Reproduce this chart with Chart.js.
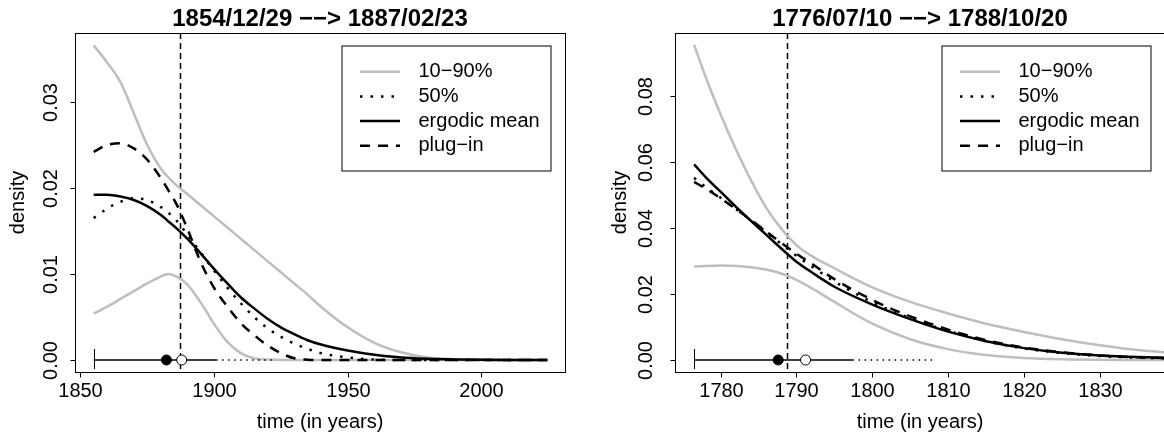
<!DOCTYPE html>
<html><head><meta charset="utf-8">
<script src="https://cdn.jsdelivr.net/npm/chart.js@4"></script>
<style>
html,body{margin:0;padding:0;background:#fff;overflow:hidden;width:1164px;height:437px;position:relative;}
#c1{position:absolute;left:0;top:0;}
#c2{position:absolute;left:582px;top:0;}
</style></head><body>
<canvas id="c1" width="582" height="437"></canvas>
<canvas id="c2" width="600" height="437"></canvas>
<script>
// ---------- Left panel data ----------
const leftTitle = "1854/12/29 \u2212\u2212> 1887/02/23";
const leftYears = [1854.99, 1860, 1865, 1870, 1875, 1880, 1883, 1886, 1890, 1895, 1900, 1905, 1910, 1915, 1920, 1925, 1930, 1935, 1940, 1950, 1960, 1970, 1980, 1990, 2000, 2010, 2024.7];
const leftQ90  = [0.0366, 0.0346, 0.0323, 0.0287, 0.0250, 0.0223, 0.0212, 0.0203, 0.0193, 0.0180, 0.0167, 0.0154, 0.0141, 0.0128, 0.0115, 0.0102, 0.0089, 0.0076, 0.0062, 0.0038, 0.0020, 0.0009, 0.0003, 0.0001, 0.00003, 0.00001, 0];
const leftQ10  = [0.0054, 0.0062, 0.0071, 0.0080, 0.0089, 0.0097, 0.0100, 0.0097, 0.0088, 0.0067, 0.0042, 0.0021, 0.0008, 0.0002, 0.00005, 0, 0, 0, 0, 0, 0, 0, 0, 0, 0, 0, 0];
const leftQ50  = [0.0165, 0.0176, 0.0184, 0.0188, 0.0186, 0.0178, 0.0171, 0.0162, 0.0146, 0.0125, 0.0104, 0.0084, 0.0066, 0.0050, 0.0037, 0.0027, 0.0019, 0.0013, 0.0008, 0.0003, 0.00005, 0, 0, 0, 0, 0, 0];
const leftMean = [0.0192, 0.0192, 0.0190, 0.0186, 0.0179, 0.0169, 0.0161, 0.0153, 0.0141, 0.0124, 0.0106, 0.0089, 0.0073, 0.0060, 0.0048, 0.0038, 0.0030, 0.0023, 0.0018, 0.0011, 0.0006, 0.0003, 0.00015, 0.00007, 0.00003, 0.00001, 0];
const leftPlug = [0.0242, 0.0250, 0.0252, 0.0246, 0.0233, 0.0212, 0.0197, 0.0181, 0.0153, 0.0114, 0.0084, 0.0062, 0.0043, 0.0029, 0.0017, 0.0008, 0.0002, 0.00004, 0, 0, 0, 0, 0, 0, 0, 0, 0];
const leftInterval = [1854.99, 1900.8, 1923];   // start, solid end, dotted end
const leftMarks = [1882.2, 1887.9];             // filled, open
const leftCut = 1887.14;
const leftXTicks = [1850, 1900, 1950, 2000];
const leftYTicks = [0, 0.01, 0.02, 0.03];
const leftYLabels = ["0.00", "0.01", "0.02", "0.03"];
const leftXRange = [1848.0, 2031.3];
const leftYRange = [-0.001395, 0.03802];

// ---------- Right panel data ----------
const rightTitle = "1776/07/10 \u2212\u2212> 1788/10/20";
const rightYears = [1776.52, 1778, 1780, 1782, 1784, 1786, 1788, 1790, 1792, 1795, 1800, 1805, 1810, 1815, 1820, 1825, 1830, 1835, 1840];
const rightQ90  = [0.0955, 0.0860, 0.0745, 0.0640, 0.0545, 0.0462, 0.0398, 0.0348, 0.0315, 0.0278, 0.0220, 0.0176, 0.0141, 0.0110, 0.0085, 0.0063, 0.0045, 0.0030, 0.0020];
const rightQ10  = [0.0283, 0.0285, 0.0286, 0.0285, 0.0281, 0.0274, 0.0262, 0.0243, 0.0218, 0.0176, 0.0110, 0.0063, 0.0033, 0.0015, 0.0006, 0.0002, 0.00005, 0.00001, 0];
const rightQ50  = [0.0552, 0.0525, 0.0492, 0.0458, 0.0423, 0.0388, 0.0352, 0.0316, 0.0284, 0.0238, 0.0175, 0.0127, 0.0088, 0.0057, 0.0035, 0.0021, 0.0012, 0.0007, 0.0004];
const rightMean = [0.0593, 0.0555, 0.0510, 0.0465, 0.0422, 0.0380, 0.0338, 0.0298, 0.0266, 0.0222, 0.0168, 0.0124, 0.0086, 0.0057, 0.0036, 0.0022, 0.0014, 0.0009, 0.0006];
const rightPlug = [0.0540, 0.0520, 0.0490, 0.0458, 0.0425, 0.0390, 0.0355, 0.0322, 0.0292, 0.0245, 0.0182, 0.0132, 0.0092, 0.0060, 0.0038, 0.0023, 0.0014, 0.0008, 0.0005];
const rightInterval = [1776.52, 1797.4, 1808.4];
const rightMarks = [1787.6, 1791.2];
const rightCut = 1788.80;
const rightXTicks = [1780, 1790, 1800, 1810, 1820, 1830];
const rightYTicks = [0, 0.02, 0.04, 0.06, 0.08];
const rightYLabels = ["0.00", "0.02", "0.04", "0.06", "0.08"];
const rightXRange = [1774.0, 1838.56];
const rightYRange = [-0.003636, 0.09909];

const legendLabels = ["10\u221290%", "50%", "ergodic mean", "plug\u2212in"];
const xTitle = "time (in years)";
const yTitle = "density";

// ---------- styles ----------
const FONT = '"Liberation Sans", Arial, Helvetica, sans-serif';
const GRAY = '#bebebe';
const styles = [
  {color: GRAY, width: 2.5, dash: []},
  {color: '#000', width: 2.5, dash: [2.5, 8]},
  {color: '#000', width: 2.5, dash: []},
  {color: '#000', width: 2.5, dash: [10, 8]}
];

function pts(xs, ys) { return xs.map((x, i) => ({x: x, y: ys[i]})); }

function curve(xs, ys, st, order) {
  return {data: pts(xs, ys), borderColor: st.color, borderWidth: st.width, borderDash: st.dash,
          pointRadius: 0, cubicInterpolationMode: 'monotone', fill: false, order: order, borderCapStyle: 'butt'};
}

function build(id, p) {
  const datasets = [
    curve(p.years, p.q90, styles[0], 20),
    curve(p.years, p.q10, styles[0], 19),
    curve(p.years, p.q50, styles[1], 18),
    curve(p.years, p.mean, styles[2], 17),
    curve(p.years, p.plug, styles[3], 16),
    {data: [{x: p.interval[0], y: 0}, {x: p.interval[1], y: 0}], borderColor: '#000', borderWidth: 1.5, pointRadius: 0, order: 5},
    {data: [{x: p.interval[1], y: 0}, {x: p.interval[2], y: 0}], borderColor: '#000', borderWidth: 1.5, borderDash: [1.5, 4.5], pointRadius: 0, order: 6},
    {data: [{x: p.marks[0], y: 0}], showLine: false, pointRadius: 5, pointBackgroundColor: '#000', pointBorderColor: '#000', pointBorderWidth: 1, order: 2},
    {data: [{x: p.marks[1], y: 0}], showLine: false, pointRadius: 5, pointBackgroundColor: '#fff', pointBorderColor: '#000', pointBorderWidth: 1, order: 1}
  ];
  const decor = {
    id: 'decor',
    beforeDatasetsDraw(chart) {
      const ctx = chart.ctx, a = chart.chartArea, x = chart.scales.x;
      const cx = Math.round(x.getPixelForValue(p.cut)) + 0.5;
      ctx.save();
      ctx.strokeStyle = '#000'; ctx.lineWidth = 1.5; ctx.setLineDash([6, 4]);
      ctx.beginPath(); ctx.moveTo(cx, a.top); ctx.lineTo(cx, a.bottom); ctx.stroke();
      ctx.restore();
    },
    afterDatasetsDraw(chart) {
      const ctx = chart.ctx, a = chart.chartArea, x = chart.scales.x, y = chart.scales.y;
      ctx.save();
      // start bar
      const sx = Math.round(x.getPixelForValue(p.interval[0])) + 0.5;
      const y0 = y.getPixelForValue(0);
      ctx.strokeStyle = '#000'; ctx.lineWidth = 1;
      ctx.beginPath(); ctx.moveTo(sx, y0 - 11); ctx.lineTo(sx, y0 + 9); ctx.stroke();
      // legend
      const br = Math.round(a.right) - 14, bl = br - 209, bt = Math.round(a.top) + 13, bb = bt + 125;
      ctx.fillStyle = '#fff'; ctx.fillRect(bl, bt, br - bl, bb - bt);
      ctx.strokeStyle = '#000'; ctx.lineWidth = 1; ctx.strokeRect(bl, bt, br - bl, bb - bt);
      ctx.font = '20px ' + FONT; ctx.textAlign = 'left'; ctx.textBaseline = 'middle'; ctx.fillStyle = '#000';
      legendLabels.forEach((lab, i) => {
        const ry = bt + 25.7 + i * 24.7;
        const st = styles[i];
        ctx.save();
        ctx.strokeStyle = st.color; ctx.lineWidth = st.width; ctx.setLineDash(st.dash); ctx.lineCap = 'butt';
        ctx.beginPath(); ctx.moveTo(bl + 18, ry); ctx.lineTo(bl + 58, ry); ctx.stroke();
        ctx.restore();
        ctx.fillText(lab, bl + 76.5, ry);
      });
      ctx.restore();
    },
    afterDraw(chart) {
      const ctx = chart.ctx, a = chart.chartArea, x = chart.scales.x, y = chart.scales.y;
      ctx.save();
      ctx.strokeStyle = '#000'; ctx.lineWidth = 1; ctx.setLineDash([]);
      const L = Math.floor(a.left) + 0.5, T = Math.floor(a.top) + 0.5, B = Math.floor(a.bottom) + 0.5, R = Math.floor(a.right) + 0.5;
      ctx.strokeRect(L, T, R - L, B - T);
      ctx.fillStyle = '#000';
      ctx.font = '20px ' + FONT;
      // x ticks
      ctx.textAlign = 'center'; ctx.textBaseline = 'alphabetic';
      p.xTicks.forEach(t => {
        const px = Math.round(x.getPixelForValue(t)) + 0.5;
        ctx.beginPath(); ctx.moveTo(px, B); ctx.lineTo(px, B + 5); ctx.stroke();
        ctx.fillText(String(t), px, 396.5);
      });
      // y ticks
      p.yTicks.forEach((t, i) => {
        const py = Math.round(y.getPixelForValue(t)) + 0.5;
        ctx.beginPath(); ctx.moveTo(L - 5, py); ctx.lineTo(L, py); ctx.stroke();
        ctx.save(); ctx.translate(L - p.yLabOff, py); ctx.rotate(-Math.PI / 2);
        ctx.fillText(p.yLabels[i], 0, 0); ctx.restore();
      });
      // axis titles
      const cxm = (a.left + a.right) / 2, cym = (a.top + a.bottom) / 2;
      ctx.fillText(xTitle, cxm, 428);
      ctx.save(); ctx.translate(L - p.yTitleOff, cym); ctx.rotate(-Math.PI / 2);
      ctx.fillText(yTitle, 0, 0); ctx.restore();
      // main title
      ctx.font = 'bold 24px ' + FONT;
      ctx.fillText(p.title, cxm, 26);
      ctx.restore();
    }
  };
  return new Chart(document.getElementById(id), {
    type: 'line',
    data: {datasets: datasets},
    options: {
      responsive: false, animation: false, devicePixelRatio: 1,
      layout: {padding: p.padding},
      plugins: {legend: {display: false}, tooltip: {enabled: false}},
      scales: {
        x: {type: 'linear', display: false, min: p.xRange[0], max: p.xRange[1]},
        y: {type: 'linear', display: false, min: p.yRange[0], max: p.yRange[1]}
      }
    },
    plugins: [decor]
  });
}

build('c1', {
  title: leftTitle, years: leftYears, q90: leftQ90, q10: leftQ10, q50: leftQ50, mean: leftMean, plug: leftPlug,
  interval: leftInterval, marks: leftMarks, cut: leftCut, xTicks: leftXTicks, yTicks: leftYTicks, yLabels: leftYLabels,
  xRange: leftXRange, yRange: leftYRange, padding: {left: 75, right: 17, top: 33, bottom: 65}, yLabOff: 18.5, yTitleOff: 52
});
build('c2', {
  title: rightTitle, years: rightYears, q90: rightQ90, q10: rightQ10, q50: rightQ50, mean: rightMean, plug: rightPlug,
  interval: rightInterval, marks: rightMarks, cut: rightCut, xTicks: rightXTicks, yTicks: rightYTicks, yLabels: rightYLabels,
  xRange: rightXRange, yRange: rightYRange, padding: {left: 93, right: 17, top: 33, bottom: 65}, yLabOff: 23.5, yTitleOff: 49.5
});
</script>
</body></html>
